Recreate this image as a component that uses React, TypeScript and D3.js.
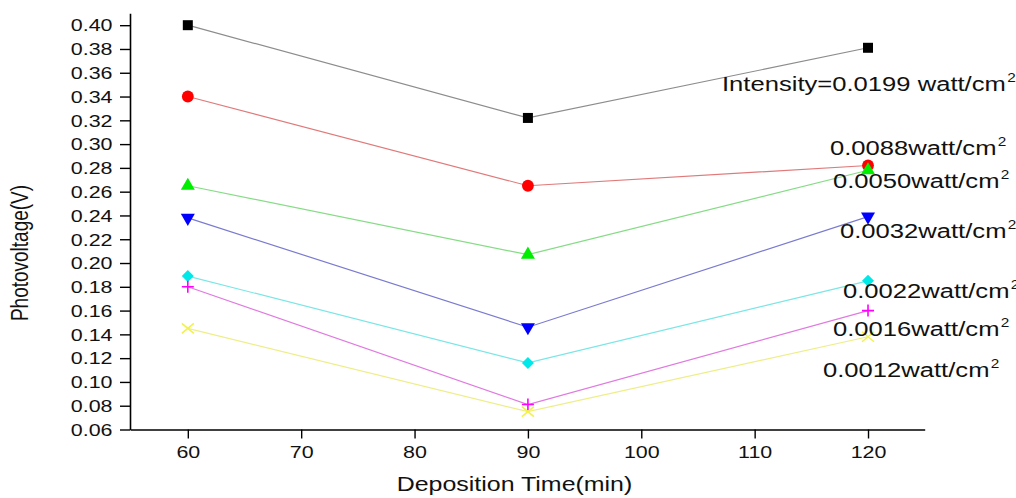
import React, { useEffect, useRef } from 'react';
import * as d3 from 'd3';

// deposition times (min)
const times = [60, 90, 120];

// photovoltage (V) per light intensity
const seriesNames = [
  'Intensity=0.0199 watt/cm',
  '0.0088watt/cm',
  '0.0050watt/cm',
  '0.0032watt/cm',
  '0.0022watt/cm',
  '0.0016watt/cm',
  '0.0012watt/cm',
];
const v0199 = [0.4, 0.322, 0.381];
const v0088 = [0.34, 0.265, 0.282];
const v0050 = [0.265, 0.207, 0.278];
const v0032 = [0.238, 0.146, 0.239];
const v0022 = [0.189, 0.116, 0.185];
const v0016 = [0.18, 0.081, 0.16];
const v0012 = [0.145, 0.075, 0.138];
const seriesValues = [v0199, v0088, v0050, v0032, v0022, v0016, v0012];

const yMajorTicks = d3.range(0, 18).map((i) => 0.06 + i * 0.02);
const yMinorTicks = d3.range(0, 18).map((i) => 0.07 + i * 0.02);
const xMajorTicks = [60, 70, 80, 90, 100, 110, 120];
const xMinorTicks = [55, 65, 75, 85, 95, 105, 115, 125];

const markerColors = ['#000000', '#ff0000', '#00ee00', '#0000ff', '#00e8e8', '#ff00ff', '#f2f24a'];
const lineColors = ['#8c8c8c', '#e07a7a', '#86dc86', '#7a7ad0', '#7ae6e6', '#e07ae0', '#eeee88'];
const markerKinds = ['square', 'circle', 'up', 'down', 'diamond', 'plus', 'cross'];

// label anchors (left, baseline) in pixels
const labelPos = [
  [722, 91],
  [830, 155],
  [833, 188],
  [840, 238],
  [843, 298],
  [833, 336],
  [823, 377],
];

const FONT = '"Liberation Sans", Arial, Helvetica, sans-serif';
const STRETCH = 1.28;

export default function App() {
  const ref = useRef<SVGSVGElement | null>(null);

  useEffect(() => {
    const svg = d3.select(ref.current);
    svg.selectAll('*').remove();

    const x = d3.scaleLinear().domain([54.9, 125]).range([130, 924.7]);
    const y = d3.scaleLinear().domain([0.06, 0.41]).range([429.5, 13.3]);

    // Y axis
    const gy = svg.append('g').attr('transform', 'translate(130,0)');
    gy.call(
      d3.axisLeft(y).tickValues(yMinorTicks).tickSize(5).tickSizeOuter(0).tickFormat(() => '')
    );
    gy.call(
      d3.axisLeft(y).tickValues(yMajorTicks).tickSize(10).tickSizeOuter(0).tickFormat(d3.format('.2f'))
    );
    gy.selectAll('path.domain').attr('stroke-width', 1.6);
    gy.selectAll('line').attr('stroke-width', 1.4);
    gy.selectAll('text')
      .attr('x', null)
      .attr('dy', null)
      .attr('transform', 'translate(-17.5,5.8) scale(1.3,1)')
      .attr('text-anchor', 'end')
      .attr('font-family', FONT)
      .attr('font-size', 16.5)
      .attr('fill', '#111');

    // X axis
    const gx = svg.append('g').attr('transform', 'translate(0,429.5)');
    gx.call(
      d3.axisBottom(x).tickValues(xMinorTicks).tickSize(5).tickSizeOuter(0).tickFormat(() => '')
    );
    gx.call(
      d3.axisBottom(x).tickValues(xMajorTicks).tickSize(9).tickSizeOuter(0).tickFormat(d3.format('d'))
    );
    gx.selectAll('path.domain').attr('stroke-width', 1.6);
    gx.selectAll('line').attr('stroke-width', 1.4);
    gx.selectAll('text')
      .attr('y', null)
      .attr('dy', null)
      .attr('transform', 'translate(0,28.5) scale(1.3,1)')
      .attr('text-anchor', 'middle')
      .attr('font-family', FONT)
      .attr('font-size', 16.5)
      .attr('fill', '#111');

    // axis titles
    svg
      .append('text')
      .attr('transform', `translate(514.5,491) scale(${STRETCH},1)`)
      .attr('text-anchor', 'middle')
      .attr('font-family', FONT)
      .attr('font-size', 19.5)
      .attr('fill', '#111')
      .text('Deposition Time(min)');

    svg
      .append('text')
      .attr('transform', `translate(28,253) scale(${STRETCH},1) rotate(-90)`)
      .attr('text-anchor', 'middle')
      .attr('font-family', FONT)
      .attr('font-size', 19)
      .attr('fill', '#111')
      .text('Photovoltage(V)');

    // lines
    const line = d3
      .line<number>()
      .x((d, i) => x(times[i]))
      .y((d) => y(d));

    seriesValues.forEach((vals, s) => {
      svg
        .append('path')
        .attr('d', line(vals))
        .attr('fill', 'none')
        .attr('stroke', lineColors[s])
        .attr('stroke-width', 1.2);
    });

    // markers
    seriesValues.forEach((vals, s) => {
      const kind = markerKinds[s];
      const color = markerColors[s];
      vals.forEach((v, i) => {
        const g = svg.append('g').attr('transform', `translate(${x(times[i])},${y(v)})`);
        if (kind === 'square') {
          g.append('path').attr('d', d3.symbol(d3.symbolSquare, 100)()).attr('fill', color);
        } else if (kind === 'circle') {
          g.append('path').attr('d', d3.symbol(d3.symbolCircle, 110)()).attr('fill', color);
        } else if (kind === 'up') {
          g.append('path').attr('d', d3.symbol(d3.symbolTriangle, 85)()).attr('fill', color);
        } else if (kind === 'down') {
          g.append('path')
            .attr('d', d3.symbol(d3.symbolTriangle, 85)())
            .attr('transform', 'rotate(180)')
            .attr('fill', color);
        } else if (kind === 'diamond') {
          g.append('path')
            .attr('d', d3.symbol(d3.symbolSquare, 72)())
            .attr('transform', 'rotate(45)')
            .attr('fill', color);
        } else if (kind === 'plus') {
          g.append('path')
            .attr('d', 'M-6,0H6M0,-6V6')
            .attr('stroke', color)
            .attr('stroke-width', 1.6);
        } else {
          g.append('path')
            .attr('d', 'M-6,-5L6,5M-6,5L6,-5')
            .attr('stroke', color)
            .attr('stroke-width', 1.6);
        }
      });
    });

    // series labels
    seriesNames.forEach((name, s) => {
      const t = svg
        .append('text')
        .attr('transform', `translate(${labelPos[s][0]},${labelPos[s][1]}) scale(${STRETCH},1)`)
        .attr('font-family', FONT)
        .attr('font-size', 20)
        .attr('fill', '#111');
      t.append('tspan').text(name);
      t.append('tspan').attr('dy', -9).attr('dx', 1).attr('font-size', 12).text('2');
    });
  }, []);

  return (
    <svg
      ref={ref}
      width={1016}
      height={498}
      style={{ position: 'absolute', left: 0, top: 0, background: '#fff' }}
    />
  );
}
